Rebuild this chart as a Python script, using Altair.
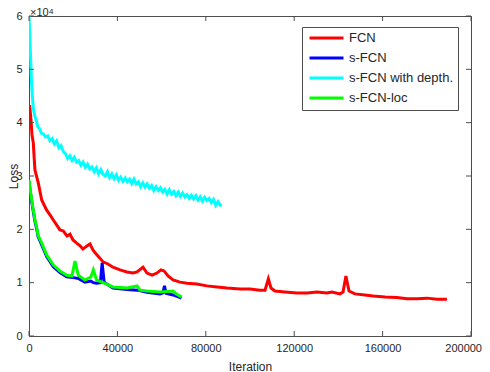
import altair as alt
import pandas as pd

FONT = "Liberation Sans"
AXIS_COLOR = "#4d4d4d"
TEXT_COLOR = "#262626"

# ---------------- data ----------------
fcn_iter = [300, 900, 1360, 1950, 2260, 2700, 4200, 5750, 8000, 9500, 11000, 14000, 15500,
            17200, 18550, 19900, 21600, 23100, 24400, 26250, 27600, 29000, 29900, 32100,
            33500, 35700, 38000, 41200, 44300, 47100, 48900, 51600, 53400, 55700, 57900,
            59700, 61100, 62900, 65200, 68300, 71500, 76000, 80500, 85100, 89600, 95500,
            100000, 104500, 106800, 108300, 109500, 111300, 115800, 121300, 125800, 130300,
            134800, 137100, 140700, 142100, 143400, 144800, 147500, 152000, 155700, 161100,
            166500, 171000, 175600, 180100, 184600, 189100]
fcn_loss = [43300, 40500, 37700, 36200, 33900, 31100, 28700, 25500, 23600, 22700, 21750, 19900, 19700,
            18750, 19100, 18000, 17400, 16900, 16300, 16900, 17250, 16100, 15600, 14600,
            13900, 13500, 12900, 12400, 12000, 11800, 12000, 12900, 11800, 11400, 11800,
            12400, 12200, 11250, 10500, 10100, 9900, 9750, 9400, 9200, 9000, 8800,
            8800, 8600, 8600, 10700, 9000, 8440, 8250, 8060, 8060, 8250,
            8060, 8250, 7900, 8250, 11250, 8440, 7900, 7700, 7500, 7300,
            7200, 7000, 7000, 7100, 6900, 6900]

sfcn_iter = [0, 450, 1220, 1950, 2700, 3480, 4070, 5750, 8000, 11000, 14000, 17060, 20800,
             22300, 25300, 28000, 29100, 30600, 32300, 33100, 34000, 38000, 44300, 48900,
             53400, 59300, 60600, 61300, 62000, 65200, 69000]
sfcn_loss = [29000, 27500, 25200, 23300, 21500, 20100, 18700, 17100, 14900, 13000, 11900, 11100, 10900,
             10800, 10100, 10300, 10000, 9900, 10000, 13700, 10100, 9000, 8700, 8600,
             8200, 7900, 8100, 9400, 8000, 7700, 7100]

depth_iter = [0, 400, 800, 1200, 1600, 2000, 2600, 3200, 4000, 4800, 5600, 6500, 7500, 8500,
              9500, 10500, 11500, 12500, 13500, 14500, 15500, 16500, 17500, 18500, 19500,
              20500, 21500, 22500, 23500, 24500, 25500, 26500, 27500, 28500, 29500, 30500,
              31500, 32500, 33500, 34500, 35500, 36500, 37500, 38500, 39500, 40500, 41500,
              42500, 43500, 44500, 45500, 46500, 47500, 48500, 49500, 50500, 51500, 52500,
              53500, 54500, 55500, 56500, 57500, 58500, 59500, 60500, 61500, 62500, 63500,
              64500, 65500, 66500, 67500, 68500, 69500, 70500, 71500, 72500, 73500, 74500,
              75500, 76500, 77500, 78500, 79500, 80500, 81500, 82500, 83500, 84500, 85500,
              86500, 87300]
depth_loss = [60000, 56000, 51500, 47000, 44500, 42500, 41300, 40500, 39200, 38900, 38000, 37900,
              37300, 37500, 36600, 37000, 36000, 36600, 35300, 35700, 34600, 34200, 33300, 33800,
              32900, 33500, 32600, 32900, 32000, 32600, 31600, 32200, 31300, 31700, 30800, 31500,
              30400, 31200, 30300, 30000, 30800, 29700, 30400, 29500, 30200, 29200, 29800, 29000,
              29600, 28900, 29400, 28600, 29400, 28500, 28900, 28000, 28700, 27900, 28500, 27700,
              28200, 27300, 28000, 27300, 27800, 27000, 27500, 26600, 27400, 26600, 27100, 26300,
              27000, 26200, 26800, 26100, 26500, 25800, 26400, 25700, 26300, 25500, 26100, 25300,
              26000, 25400, 25800, 25000, 25600, 24500, 25200, 24500, 24600]

loc_iter = [0, 450, 1220, 1950, 2700, 3480, 4070, 5750, 8000, 11000, 14000, 17060, 19450,
            20800, 22300, 25300, 28000, 29100, 30600, 33000, 38000, 44300, 48900, 50200,
            53400, 59300, 65200, 66500, 69100]
loc_loss = [29250, 27750, 25500, 23600, 21750, 20400, 18900, 17400, 15200, 13300, 12200, 11400, 11250,
            14060, 11400, 10500, 11060, 12370, 10500, 10100, 9200, 9000, 9370, 8600,
            8440, 8250, 8440, 7900, 7300]

series_names = ["FCN", "s-FCN", "s-FCN with depth.", "s-FCN-loc"]
series_colors = ["#ff0000", "#0000ff", "#00ffff", "#00ff00"]
x_tick_values = [0, 40000, 80000, 120000, 160000, 200000]
y_tick_values = [0, 10000, 20000, 30000, 40000, 50000, 60000]
exponent_base = ["×10"]
exponent_power = ["4"]

# ---------------- build table ----------------
rows = []
for name, xs, ys in zip(series_names,
                        [fcn_iter, sfcn_iter, depth_iter, loc_iter],
                        [fcn_loss, sfcn_loss, depth_loss, loc_loss]):
    for i, (a, b) in enumerate(zip(xs, ys)):
        rows.append({"series": name, "iteration": a, "loss": b, "idx": i})
df = pd.DataFrame(rows)

W, H = 442, 320
TICK = 5
LAST_X = x_tick_values[-1]

xscale = alt.Scale(domain=[0, 200000], nice=False, zero=False)
yscale = alt.Scale(domain=[0, 60000], nice=False, zero=False)

lines = alt.Chart(df).mark_line(strokeWidth=3, clip=True).encode(
    x=alt.X("iteration:Q", scale=xscale,
            axis=alt.Axis(values=x_tick_values, format="d", title="Iteration",
                          domain=False, ticks=False, tickSize=0, grid=False,
                          labelFlush=False, labelOverlap=False,
                          labelAlign={"condition": {"test": f"datum.value == {LAST_X}",
                                                    "value": "right"},
                                      "value": "center"},
                          labelOffset={"condition": {"test": f"datum.value == {LAST_X}",
                                                     "value": 10.5},
                                       "value": 0},
                          labelPadding=6, labelFontSize=11, labelColor=TEXT_COLOR,
                          labelFont=FONT, titleFont=FONT, titleFontSize=12,
                          titleFontWeight="normal", titleColor=TEXT_COLOR,
                          titleY=34, titleBaseline="alphabetic")),
    y=alt.Y("loss:Q", scale=yscale,
            axis=alt.Axis(values=y_tick_values, labelExpr="datum.value / 10000",
                          title="Loss", domain=False, ticks=False, tickSize=0, grid=False,
                          labelFlush=False, labelOverlap=False,
                          labelPadding=7, labelFontSize=11, labelColor=TEXT_COLOR,
                          labelFont=FONT, titleFont=FONT, titleFontSize=12,
                          titleFontWeight="normal", titleColor=TEXT_COLOR,
                          titleX=-12, titleY=160, titleBaseline="alphabetic",
                          titleAngle=-90)),
    color=alt.Color("series:N",
                    scale=alt.Scale(domain=series_names, range=series_colors),
                    legend=alt.Legend(title=None, orient="none", legendX=273, legendY=11,
                                      symbolType="M-0.7,0H6.1", symbolSize=100,
                                      symbolStrokeWidth=3, labelOffset=29.5,
                                      labelFont=FONT, labelFontSize=13,
                                      labelColor=TEXT_COLOR, rowPadding=6,
                                      padding=4.5, strokeColor=AXIS_COLOR,
                                      fillColor="white", labelLimit=300)),
    order="idx:Q",
)

xt = pd.DataFrame({"v": x_tick_values})
yt = pd.DataFrame({"v": y_tick_values})

bottom_ticks = alt.Chart(xt).mark_rule(color=AXIS_COLOR, strokeWidth=1).encode(
    x=alt.X("v:Q", scale=xscale), y=alt.value(H), y2=alt.value(H - TICK))
top_ticks = alt.Chart(xt).mark_rule(color=AXIS_COLOR, strokeWidth=1).encode(
    x=alt.X("v:Q", scale=xscale), y=alt.value(0), y2=alt.value(TICK))
left_ticks = alt.Chart(yt).mark_rule(color=AXIS_COLOR, strokeWidth=1).encode(
    y=alt.Y("v:Q", scale=yscale), x=alt.value(0), x2=alt.value(TICK))
right_ticks = alt.Chart(yt).mark_rule(color=AXIS_COLOR, strokeWidth=1).encode(
    y=alt.Y("v:Q", scale=yscale), x=alt.value(W), x2=alt.value(W - TICK))

exp_base = alt.Chart(pd.DataFrame({"t": exponent_base})).mark_text(
    align="left", baseline="alphabetic", font=FONT, fontSize=11, color=TEXT_COLOR
).encode(text="t:N", x=alt.value(1), y=alt.value(0))
exp_pow = alt.Chart(pd.DataFrame({"t": exponent_power})).mark_text(
    align="left", baseline="alphabetic", font=FONT, fontSize=8, color=TEXT_COLOR
).encode(text="t:N", x=alt.value(20), y=alt.value(-2))

chart = alt.layer(lines, bottom_ticks, top_ticks, left_ticks, right_ticks,
                  exp_base, exp_pow).properties(
    width=W, height=H,
    autosize=alt.AutoSizeParams(type="none"),
    padding={"left": 21, "top": 8, "right": 11, "bottom": 36},
    background="white",
).configure_view(stroke=AXIS_COLOR, strokeWidth=1)

chart.save("out.html", embed_options={"renderer": "svg", "actions": False})
